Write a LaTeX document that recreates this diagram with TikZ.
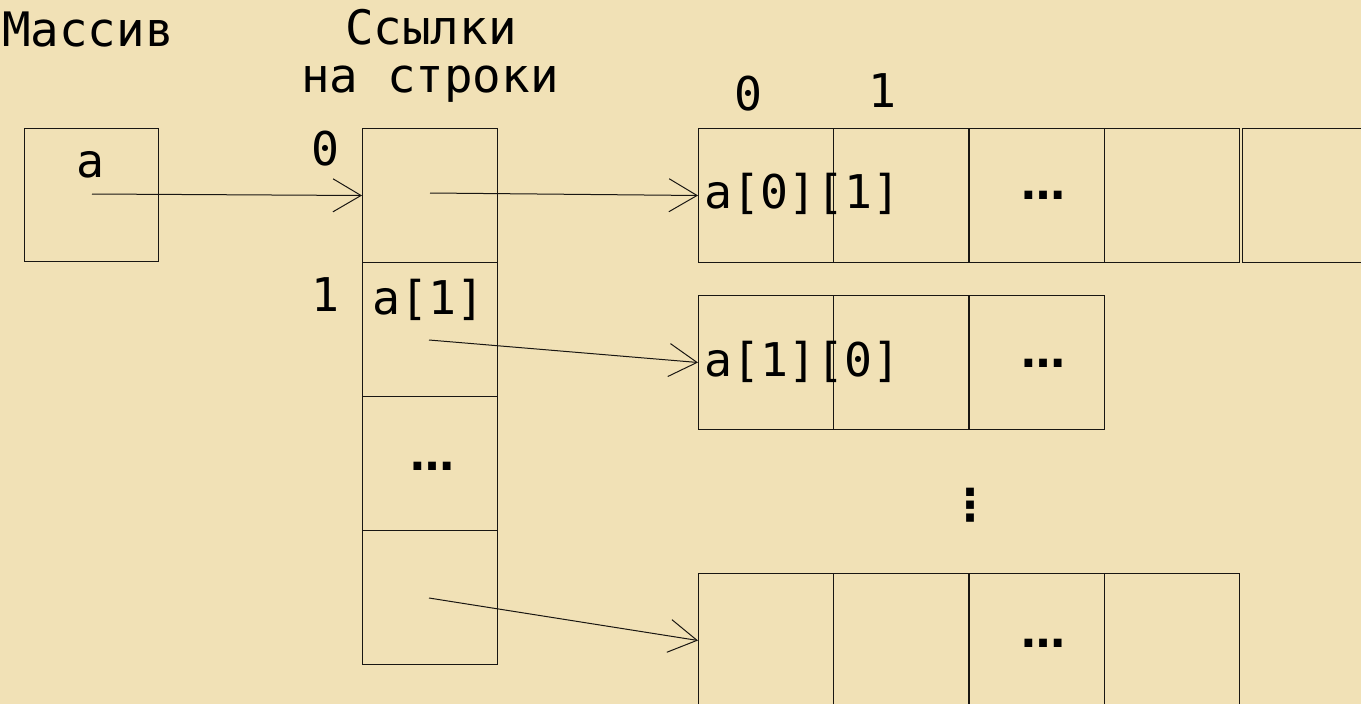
\documentclass[tikz,border=0pt]{standalone}
\usepackage{fontspec}
\setmonofont{DejaVu Sans Mono}
\newfontfamily\dvsans{DejaVu Sans}
\usetikzlibrary{arrows.meta}
\definecolor{bgbeige}{RGB}{241,225,182}
\definecolor{lineblk}{RGB}{25,22,18}
\begin{document}
\begin{tikzpicture}[x=1pt,y=-1pt,
  cell/.style={draw=lineblk, line width=1pt, minimum width=135pt, minimum height=134pt, anchor=north west, inner sep=0pt},
  hdr/.style={font=\ttfamily\fontsize{47.5}{52}\selectfont, inner sep=0pt, text=black},
  txt/.style={font=\ttfamily\fontsize{46.5}{50}\selectfont, inner sep=0pt, text=black},
  dots/.style={font=\dvsans\fontsize{44}{48}\selectfont\bfseries, inner sep=0pt, text=black},
  arr/.style={draw=lineblk, line width=1pt, -{Straight Barb[length=28pt,width=33pt,line width=1pt]}}]
\fill[bgbeige] (0,0) rectangle (1361,704);
\useasboundingbox (0,0) rectangle (1361,704);
\clip (0,0) rectangle (1361,704);
% titles
\node[hdr, anchor=base west] (tMas) at (2,46) {Массив};
\node[hdr, anchor=base] (tRef1) at (431,44) {Ссылки};
\node[hdr, anchor=base] (tRef2) at (430,92) {на строки};
% array variable a
\node[cell, minimum width=134pt, minimum height=133pt] (A) at (24,128) {};
\node[txt, anchor=base] (tA) at (90,177) {a};
% column of row references
\node[cell] (c0) at (362,128) {};
\node[cell] (c1) at (362,262) {};
\node[cell] (c2) at (362,396) {};
\node[cell] (c3) at (362,530) {};
\node[txt, anchor=base] (l0) at (325,165) {0};
\node[txt, anchor=base] (l1) at (325,311) {1};
\node[txt, anchor=base west] (ta1) at (372,314) {a[1]};
\node[dots, anchor=base] (dc2) at (432,470) {…};
% row 0
\node[cell] (r00) at (698,128) {};
\node[cell] (r01) at (833,128) {};
\node[cell] (r02) at (969,128) {};
\node[cell] (r03) at (1104,128) {};
\node[cell, minimum width=140pt] (r04) at (1242,128) {};
\node[txt, anchor=base] (h0) at (748,110) {0};
\node[txt, anchor=base] (h1) at (882,107) {1};
\node[txt, anchor=base west] (ta01) at (704,208) {a[0][1]};
\node[dots, anchor=base] (d0) at (1043,199) {…};
% row 1
\node[cell] (r10) at (698,295) {};
\node[cell] (r11) at (833,295) {};
\node[cell] (r12) at (969,295) {};
\node[txt, anchor=base west] (ta10) at (704,376) {a[1][0]};
\node[dots, anchor=base] (d1) at (1043,367) {…};
% vertical dots
\node[dots, anchor=center] (vd) at (970,505) {⋮};
% last row
\node[cell] (r20) at (698,573) {};
\node[cell] (r21) at (833,573) {};
\node[cell] (r22) at (969,573) {};
\node[cell] (r23) at (1104,573) {};
\node[dots, anchor=base] (d2) at (1043,647) {…};
% arrows
\coordinate (pA) at (92,194);
\coordinate (p0) at (430,193);
\coordinate (p1) at (429,340);
\coordinate (p3) at (429,598);
\draw[arr] (pA) -- (c0.west);
\draw[arr] (p0) -- (r00.west);
\draw[arr] (p1) -- (r10.west);
\draw[arr] (p3) -- (r20.west);
\end{tikzpicture}
\end{document}
